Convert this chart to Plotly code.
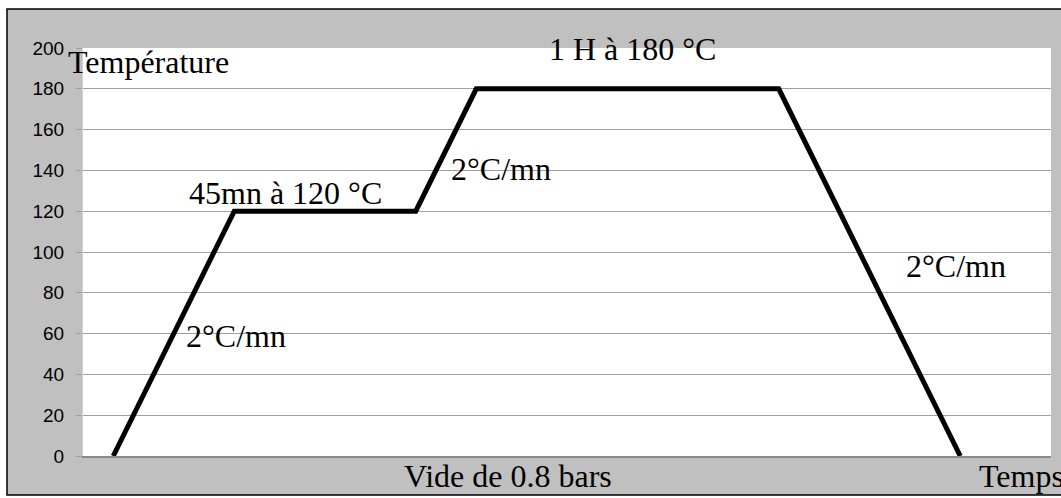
import plotly.graph_objects as go

# ---- data ----
etapes = list(range(16))
temperature = [0, 60, 120, 120, 120, 120, 180, 180, 180, 180, 180, 180, 120, 60, 0, None]
y_ticks = list(range(0, 201, 20))

labels = ["Température", "1 H à 180 °C", "45mn à 120 °C", "2°C/mn", "2°C/mn", "2°C/mn",
          "Vide de 0.8 bars", "Temps"]

# ---- layout geometry (pixels) ----
W, H = 1061, 498
L, R, T, B = 83, 1051, 48, 456  # plot area edges


def px(x):
    return (x - L) / (R - L)


def py(y):
    return (B - y) / (B - T)


FS = 32
BASE_OFF = 0.3375 * FS  # baseline offset from box centre for Liberation Serif

# (left edge, baseline) in pixels for each label
label_pos = [(68, 72.7), (549, 60), (189, 204), (186, 347), (451, 180), (906, 276.7),
             (404, 486.7), (979, 486.7)]

fig = go.Figure()
fig.add_trace(go.Scatter(
    x=etapes, y=temperature, mode="lines",
    line=dict(color="black", width=5),
    connectgaps=False, hoverinfo="skip", showlegend=False,
))

shapes = [
    # outer grey frame
    dict(type="rect", xref="paper", yref="paper", layer="below",
         x0=px(7), x1=px(1066), y0=py(495), y1=py(9),
         fillcolor="#C0C0C0", line=dict(color="black", width=1.5)),
    # white plot area
    dict(type="rect", xref="paper", yref="paper", layer="below",
         x0=0, x1=1, y0=0, y1=1, fillcolor="white", line=dict(width=0)),
]

annotations = []
for text, (lx, by) in zip(labels, label_pos):
    annotations.append(dict(
        text=text, xref="paper", yref="paper",
        x=px(lx - 2), y=py(by - BASE_OFF), xanchor="left", yanchor="middle",
        showarrow=False,
        font=dict(family="Liberation Serif, Times New Roman, serif", size=FS, color="black"),
    ))

fig.update_layout(
    width=W, height=H,
    margin=dict(l=L, r=W - R, t=T, b=H - B, pad=0),
    paper_bgcolor="white", plot_bgcolor="white",
    shapes=shapes, annotations=annotations,
    xaxis=dict(range=[-0.5, 15.5], showgrid=False, zeroline=False,
               showticklabels=False, ticks="", showline=True,
               linecolor="#8a8a8a", linewidth=1.5, fixedrange=True),
    yaxis=dict(range=[0, 200], tickvals=y_ticks, showgrid=True,
               gridcolor="#a0a0a0", gridwidth=1, zeroline=False,
               ticks="outside", ticklen=6, tickcolor="#a0a0a0",
               showline=True, linecolor="#d0d0d0", linewidth=1,
               ticklabelstandoff=8,
               tickfont=dict(family="Liberation Sans, Arial, sans-serif", size=19, color="black"),
               fixedrange=True),
)

fig.write_html("out.html", config={"displayModeBar": False},
               post_script="document.body.style.margin='0';document.body.style.overflow='hidden';")
